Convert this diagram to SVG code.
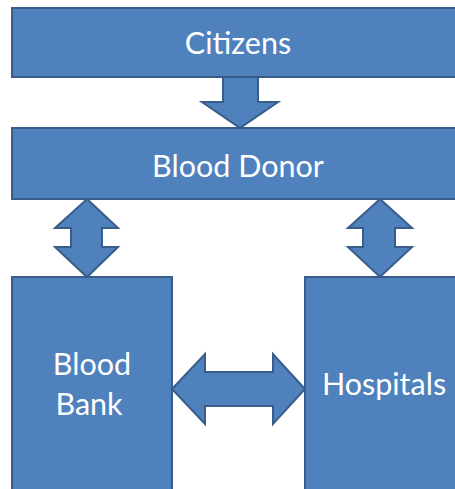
<svg xmlns="http://www.w3.org/2000/svg" width="455" height="489" viewBox="0 0 455 489">
<style>
.box{fill:#4F81BD;stroke:#385D8A;stroke-width:2}
.arr{fill:#4F81BD;stroke:#385D8A;stroke-width:2;stroke-linejoin:miter}
.t{fill:#FFFFFF;font-family:Lato,"Open Sans",sans-serif;font-size:30.5px;text-anchor:middle}
</style>
<rect width="455" height="489" fill="#FFFFFF"/>
<g id="connectors">
<path class="arr" d="M223,77 L258,77 L258,102 L278,102 L240,128 L202,102 L223,102 Z"/>
<path class="arr" d="M87,199 L118,228 L102,228 L102,247 L118,247 L87,277 L55,247 L71,247 L71,228 L55,228 Z"/>
<path class="arr" d="M380,199 L412,228 L395,228 L395,247 L412,247 L380,277 L348,247 L363,247 L363,228 L348,228 Z"/>
<path class="arr" d="M172,389 L205,354 L205,372 L273,372 L273,354 L305,389 L273,424 L273,406 L205,406 L205,424 Z"/>
</g>
<g id="citizens">
<rect class="box" x="12" y="8" width="455" height="69"/>
<text class="t" x="238" y="54">Citizens</text>
</g>
<g id="blood-donor">
<rect class="box" x="12" y="128" width="455" height="71"/>
<text class="t" x="238" y="177">Blood Donor</text>
</g>
<g id="blood-bank">
<rect class="box" x="12" y="277" width="160" height="215"/>
<text class="t" x="92" y="375">Blood</text>
<text class="t" x="89" y="415">Bank</text>
</g>
<g id="hospitals">
<rect class="box" x="305" y="277" width="160" height="215"/>
<text class="t" x="384" y="395">Hospitals</text>
</g>
</svg>
